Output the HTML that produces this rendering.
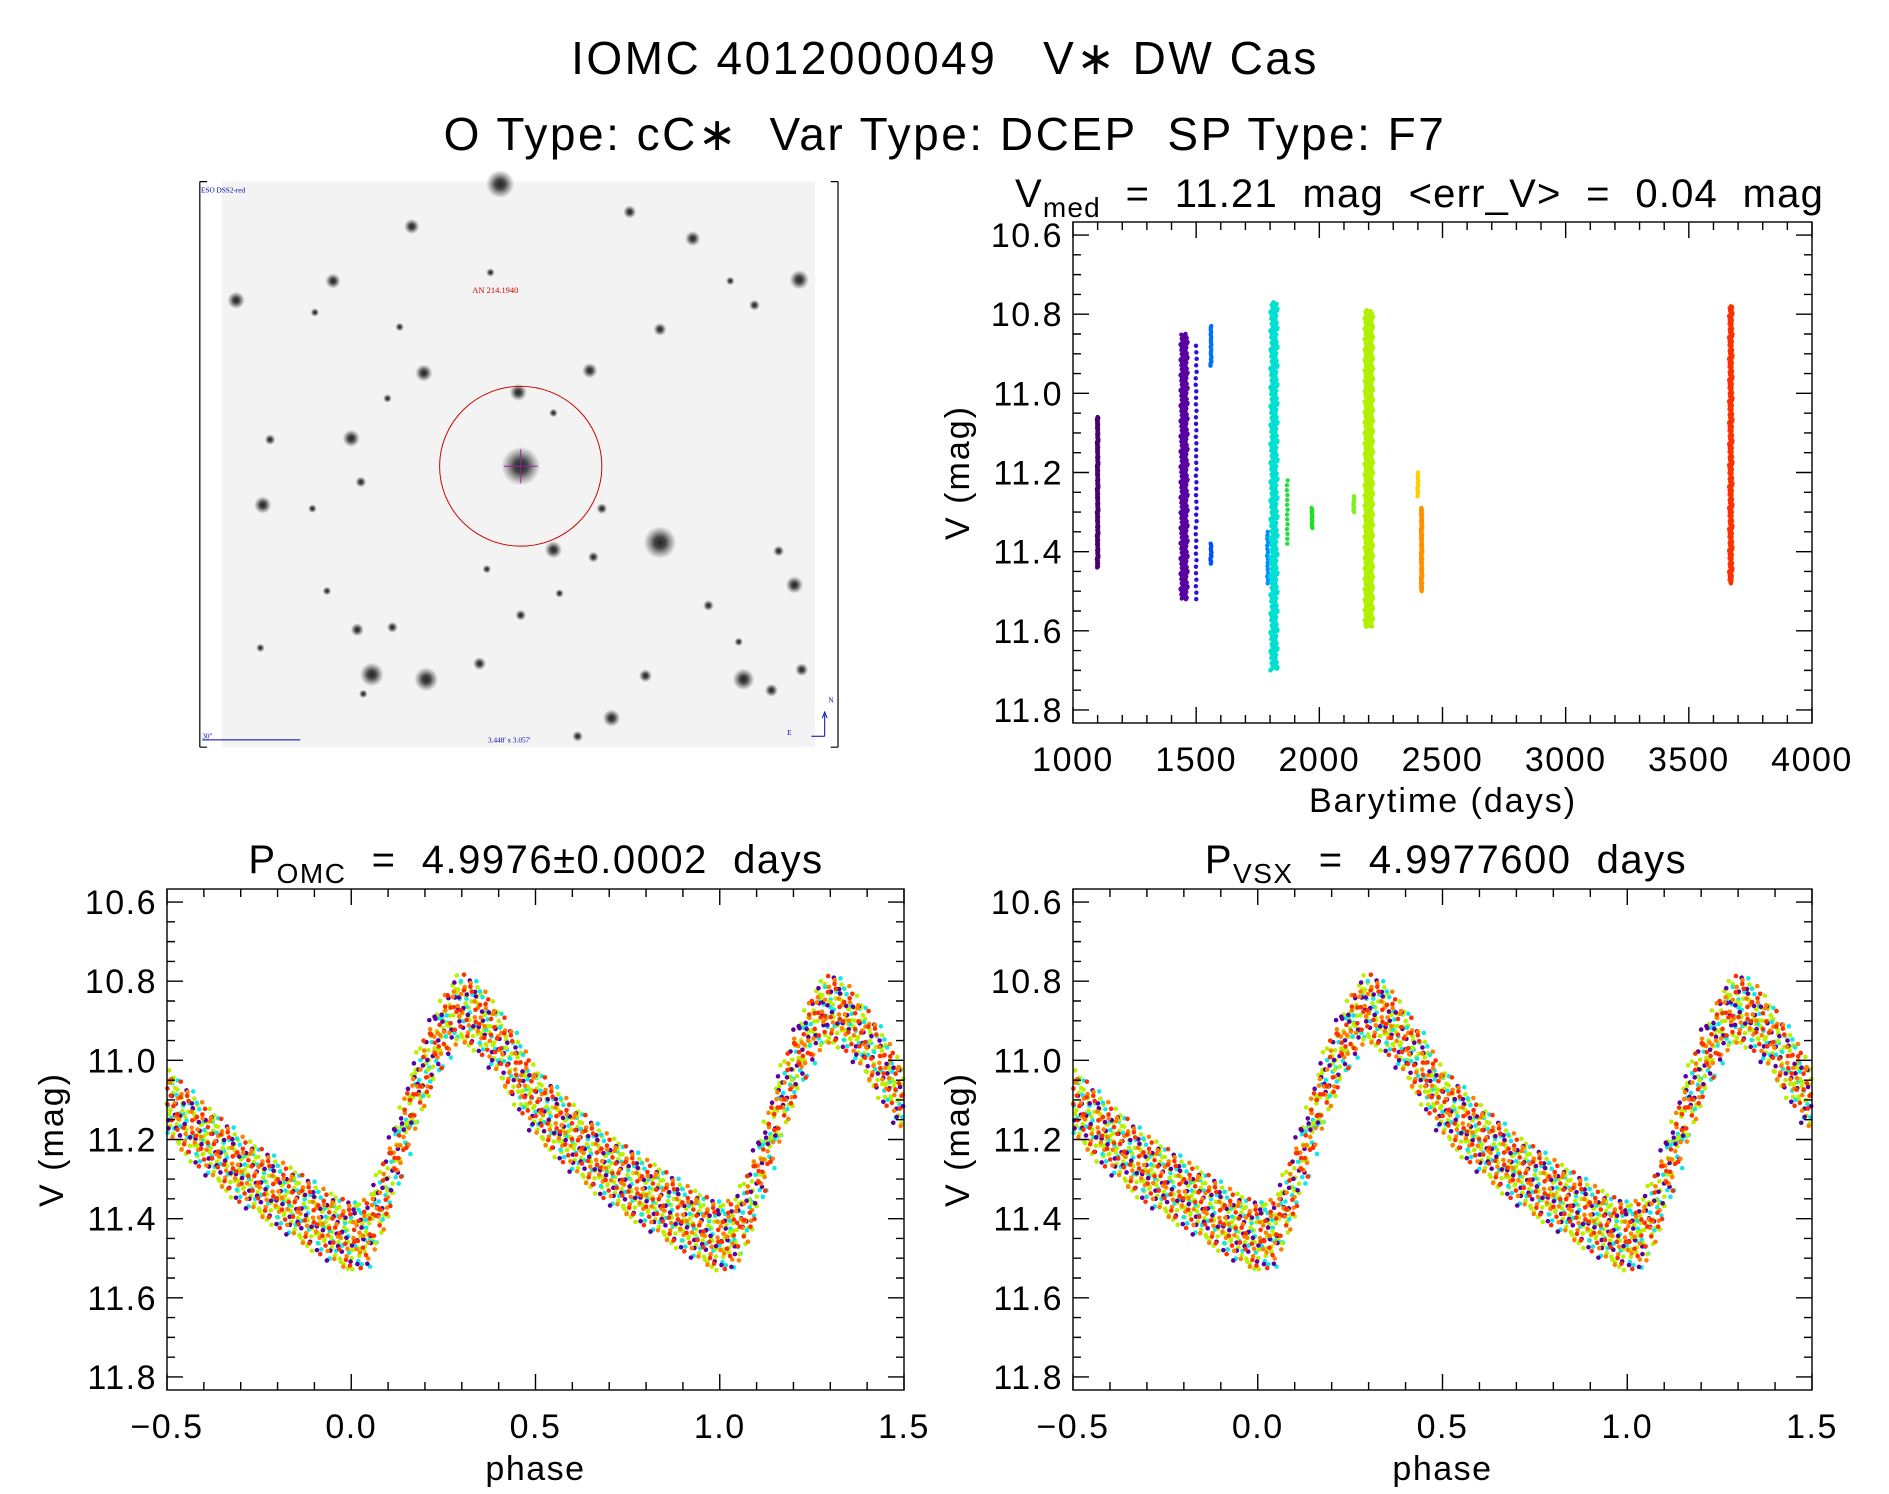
<!DOCTYPE html>
<html><head><meta charset="utf-8"><style>
html,body{margin:0;padding:0;background:#fff;}
svg{display:block;font-family:"Liberation Sans",sans-serif;}
</style></head><body>
<svg id="root" width="1889" height="1494" viewBox="0 0 1889 1494" xmlns="http://www.w3.org/2000/svg">
<defs>
<radialGradient id="star"><stop offset="0" stop-color="#000" stop-opacity="1"/><stop offset="0.35" stop-color="#111" stop-opacity="0.9"/><stop offset="1" stop-color="#444" stop-opacity="0"/></radialGradient>
</defs>
<g font-size="46" fill="#000" text-anchor="middle" letter-spacing="2.5">
<text x="945" y="74" xml:space="preserve">IOMC 4012000049   V∗ DW Cas</text>
<text x="945" y="150" xml:space="preserve">O Type: cC∗  Var Type: DCEP  SP Type: F7</text>
</g>
<g id="imgpanel" transform="scale(1.211)"></g>
<g id="plots"></g>
</svg>
<script>
// ---------- sky image ----------
const stars = [[413,152,13],[340,187,7],[520,175,6],[572,197,7],[275,232,7],[660,231,9],[195,248,8],[623,252,5],[330,270,4],[545,272,6],[350,308,8],[487,306,7],[428,324,8],[290,362,8],[430,385,18],[298,398,5],[217,417,8],[545,448,15],[457,454,8],[656,483,8],[295,520,6],[324,518,5],[396,548,6],[352,561,11],[307,557,11],[533,558,6],[614,561,10],[637,570,6],[662,553,6],[505,593,8],[477,608,5],[430,508,5],[223,363,5],[490,460,5],[260,258,4],[405,225,4],[603,232,4],[320,329,4],[270,488,4],[215,535,4],[462,490,4],[585,500,5],[643,455,5],[300,573,4],[610,530,4],[258,420,4],[497,420,5],[457,341,4],[402,470,4]];
const ig = document.getElementById('imgpanel');
const NS='http://www.w3.org/2000/svg';
function mk(tag, attrs, parent){const e=document.createElementNS(NS,tag);for(const k in attrs)e.setAttribute(k,attrs[k]);parent.appendChild(e);return e;}
let bg=mk('rect',{x:183,y:150,width:490,height:467,fill:'#f3f3f3'},ig);


stars.forEach(s=>{const c=mk('circle',{cx:s[0],cy:s[1],r:s[2]*0.9,fill:'url(#star)',opacity:0.85},ig);

});
mk('path',{d:'M165 150 V617 M165 150 H171 M165 617 H171 M692 150 V617 M686 150 H692 M686 617 H692',stroke:'#000','stroke-width':1,fill:'none'},ig);
let ring=mk('ellipse',{cx:430,cy:385,rx:67,ry:66,stroke:'#c00','stroke-width':0.8,fill:'none'},ig);


mk('path',{d:'M430 371 V399 M416 385 H444',stroke:'#a020a0','stroke-width':0.8},ig);
function itxt(x,y,s,col,t){const e=mk('text',{x:x,y:y,'font-size':s,fill:col,'font-family':'Liberation Serif, serif'},ig);e.textContent=t;return e;}
let t1=itxt(390,242,7,'#c00','AN 214.1940');
let t2=itxt(166,159,6,'#00a','ESO DSS2-red');
let t3=itxt(167,610,6,'#00a','30"');
let t4=itxt(403,613,6,'#00a','3.448\' x 3.057\'');
mk('path',{d:'M167 611 H248 M681 608 V590 M679 593 L681 588 L683 593 M670 608 H681',stroke:'#00a','stroke-width':0.8,fill:'none'},ig);
itxt(684,580,6,'#00a','N');itxt(650,607,6,'#00a','E');

// ---------- light curve data ----------
const groupTimes  = [1100, 1450, 1500, 1560, 1560, 1790, 1815, 1870, 1970, 2140, 2200, 2400, 2415, 3670];
const groupColors = ['#4b0070','#5a00a0','#3010e0','#0070ff','#0050ff','#0090ff','#00e0d0','#20e040','#20e020','#80f020','#b0f000','#ffd000','#ff9000','#ff3000'];
const groupMin    = [11.06, 10.85, 10.88, 10.83, 11.38, 11.35, 10.77, 11.22, 11.29, 11.26, 10.79, 11.20, 11.29, 10.78];
const groupMax    = [11.44, 11.52, 11.52, 10.93, 11.43, 11.48, 11.70, 11.38, 11.34, 11.30, 11.59, 11.26, 11.50, 11.48];
const groupSpread = [6, 30, 4, 4, 4, 6, 30, 4, 4, 4, 36, 4, 6, 14];
const groupCount  = [150, 400, 40, 20, 12, 16, 450, 14, 12, 10, 700, 12, 80, 300];

// phased light-curve template (phase, V mag)
const tplPhase = [0.00, 0.05, 0.08, 0.12, 0.16, 0.20, 0.25, 0.30, 0.35, 0.40, 0.45, 0.50, 0.60, 0.70, 0.80, 0.90, 0.95, 1.00];
const tplMag   = [11.44, 11.43, 11.36, 11.25, 11.13, 11.02, 10.92, 10.86, 10.89, 10.95, 11.02, 11.10, 11.19, 11.27, 11.33, 11.39, 11.42, 11.44];
const phaseColors = ['#b8f000','#10e8e8','#b8f000','#5a00a0','#ff8000','#ff3000'];
const phaseShift  = [0.03, -0.02, 0.0, 0.03, 0.0, 0.0];
const scatterMag  = [0.00,0.04,-0.03,0.06,-0.05,0.02,-0.01,0.08,-0.06,0.03,-0.04,0.05,-0.02,0.01,-0.07,0.04,0.09,-0.03,0.02,-0.05,0.07,-0.08,0.01];

// ---------- plotting helpers ----------
const P = document.getElementById('plots');
function axes(box, xr, yr, xMajor, xMinor, yMajor, yMinor, xlabels, name){
  const g=mk('g',{},P);
  
  
  const sx=v=>box.x0+(v-xr[0])/(xr[1]-xr[0])*(box.x1-box.x0);
  const sy=v=>box.y0+(v-yr[0])/(yr[1]-yr[0])*(box.y1-box.y0);
  const dots=mk('g',{},g);
  mk('rect',{x:box.x0,y:box.y0,width:box.x1-box.x0,height:box.y1-box.y0,fill:'none',stroke:'#000','stroke-width':1.4},g);
  let d='';
  for(let v=xr[0];v<=xr[1]+1e-9;v+=xMinor){const x=sx(v);const maj=Math.abs(v/xMajor-Math.round(v/xMajor))<1e-6;const L=maj?16:8;d+=`M${x} ${box.y1}V${box.y1-L}M${x} ${box.y0}V${box.y0+L}`;}
  for(let k=0;;k++){const v=10.6+k*yMinor;if(v>11.8+1e-9)break;const y=sy(v);const L=(k%4==0)?16:8;d+=`M${box.x0} ${y}H${box.x0+L}M${box.x1} ${y}H${box.x1-L}`;}
  mk('path',{d:d,stroke:'#000','stroke-width':1.4,fill:'none'},g);
  xlabels.forEach(l=>{const t=mk('text',{x:sx(l.v),y:box.y1+48,'font-size':34,'text-anchor':'middle','letter-spacing':1.5},g);t.textContent=l.t;
    });
  yTicks.forEach(l=>{const t=mk('text',{x:box.x0-10,y:sy(l.v)+12,'font-size':34,'text-anchor':'end','letter-spacing':1.5},g);t.textContent=l.t;
    });
  const yt=mk('text',{x:0,y:0,'font-size':34,'text-anchor':'middle','letter-spacing':2,transform:`translate(${box.x0-104},${(box.y0+box.y1)/2}) rotate(-90)`},g);
  yt.textContent='V (mag)';
  
  return {sx,sy,dots,g};
}
const yTicks=[10.6,10.8,11.0,11.2,11.4,11.6,11.8].map(v=>({v:v,t:v.toFixed(1)}));
const tTicks=[1000,1500,2000,2500,3000,3500,4000].map(v=>({v:v,t:String(v)}));
const pTicks=[-0.5,0,0.5,1.0,1.5].map(v=>({v:v,t:(v<0?'\u2212':'')+Math.abs(v).toFixed(1)}));
const yr=[10.567,11.833];

// top-right time series
const A=axes({x0:1073,x1:1812,y0:222,y1:723},[1000,4000],yr,500,100,0.2,0.05,tTicks,'time-series-plot');
groupTimes.forEach((tm,i)=>{
  const n=groupCount[i];
  for(let k=0;k<n;k++){
    const f=k/(n-1);
    const m=groupMin[i]+(groupMax[i]-groupMin[i])*f;
    const dt=scatterMag[(k*7+i)%scatterMag.length]/0.09*groupSpread[i]/2;
    const c=mk('circle',{cx:A.sx(tm+dt),cy:A.sy(m),r:2.2,fill:groupColors[i]},A.dots);
    
    
  }
});
let ttl=mk('text',{x:1015,y:207,'font-size':40,'letter-spacing':1.2},P);

ttl.innerHTML='V<tspan font-size="28" dy="10">med</tspan><tspan dy="-10" xml:space="preserve">  =  11.21  mag  &lt;err_V&gt;  =  0.04  mag</tspan>';
let xt=mk('text',{x:1443,y:812,'font-size':34,'text-anchor':'middle','letter-spacing':2},P);xt.textContent='Barytime (days)';


// phase plots
function interp(ph){ph=((ph%1)+1)%1;for(let i=0;i<tplPhase.length-1;i++){if(ph<=tplPhase[i+1]){const f=(ph-tplPhase[i])/(tplPhase[i+1]-tplPhase[i]);return tplMag[i]+f*(tplMag[i+1]-tplMag[i]);}}return tplMag[tplMag.length-1];}
function phasePlot(x0,x1,sub,rest,name,cx){
  const B=axes({x0:x0,x1:x1,y0:889,y1:1390},[-0.5,1.5],yr,0.5,0.1,0.2,0.05,pTicks,name);
  phaseColors.forEach((col,ci)=>{
    const N=420;
    for(let k=0;k<N;k++){
      const ph=-0.5+k*(2/(N-1))+scatterMag[(k*3+ci)%scatterMag.length]*0.06;
      const m=interp(ph+phaseShift[ci]*0.3)+scatterMag[(k*11+ci*5)%scatterMag.length]*1.0;
      if(ph<-0.5||ph>1.5)continue;
      const c=mk('circle',{cx:B.sx(ph),cy:B.sy(m),r:2.3,fill:col},B.dots);
      
      
    }
  });
  const t=mk('text',{x:cx,y:873,'font-size':40,'text-anchor':'middle','letter-spacing':1.5},P);
  
  t.innerHTML='P<tspan font-size="28" dy="10">'+sub+'</tspan><tspan dy="-10" xml:space="preserve">'+rest+'</tspan>';
  const xa=mk('text',{x:(x0+x1)/2,y:1480,'font-size':34,'text-anchor':'middle','letter-spacing':1.5},P);xa.textContent='phase';
  
}
phasePlot(167,904,'OMC','  =  4.9976±0.0002  days','omc-phase-plot',536);
phasePlot(1073,1812,'VSX','  =  4.9977600  days','vsx-phase-plot',1446);
</script>
</body></html>
